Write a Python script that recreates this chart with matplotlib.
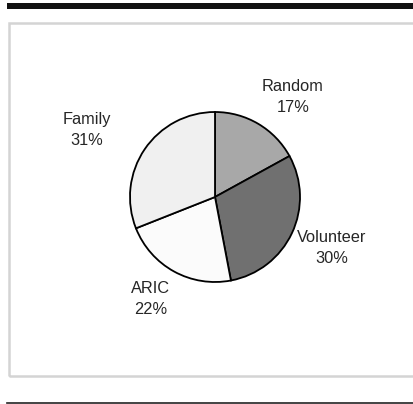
import matplotlib
matplotlib.use('Agg')
from matplotlib import pyplot as plt
from matplotlib.patches import Rectangle

plt.rcParams['font.family'] = ['Liberation Sans', 'DejaVu Sans']

groups = ['Random', 'Volunteer', 'ARIC', 'Family']
shares = [17, 30, 22, 31]
colors = ['#a8a8a8', '#707070', '#fbfbfb', '#f0f0f0']
# label centres, in pixels from the top-left corner
label_xy = [(293, 97), (332, 248), (151, 299), (87, 130)]

W, H = 414, 404
fig = plt.figure(figsize=(W / 100, H / 100), dpi=100)
ax = fig.add_axes([0, 0, 1, 1])

ax.pie(shares, colors=colors, startangle=90, counterclock=False,
       center=(215, H - 197), radius=85,
       wedgeprops=dict(edgecolor='black', linewidth=1.3))

for name, share, (x, y) in zip(groups, shares, label_xy):
    ax.text(x, H - y, f'{name}\n{share}%', ha='center', va='center',
            fontsize=11.8, color='#262626', linespacing=1.45)

# page decoration: heavy rule on top, light frame, thin rule at bottom
ax.add_patch(Rectangle((7, H - 8.5), W - 7, 5.5, facecolor='#111111',
                       edgecolor='none', clip_on=False))
ax.add_patch(Rectangle((9.5, H - 376), W, 353, facecolor='none',
                       edgecolor='#d4d4d4', linewidth=1.8, clip_on=False))
ax.plot([7, W], [H - 402.5, H - 402.5], color='#222222', linewidth=1.2,
        clip_on=False)

ax.set_xlim(0, W)
ax.set_ylim(0, H)
ax.set_aspect('auto')
ax.axis('off')

fig.savefig('out.png', dpi=100)
